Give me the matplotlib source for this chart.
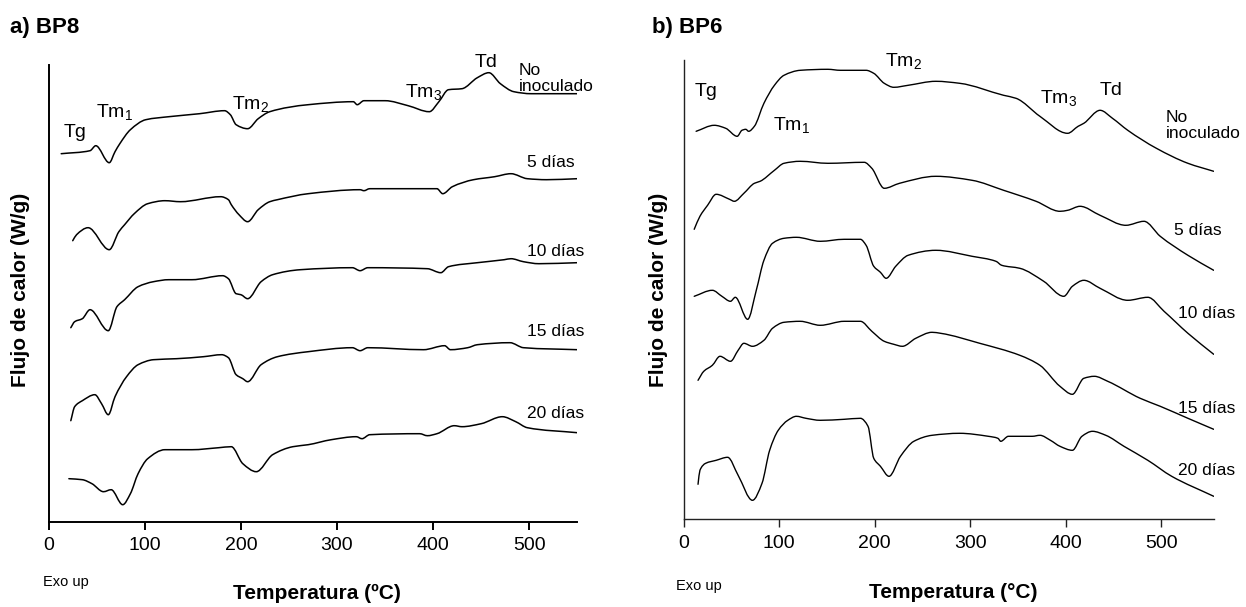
import numpy as np
import matplotlib.pyplot as plt
from matplotlib.path import Path
from matplotlib.patches import PathPatch

plt.rcParams['font.family'] = ['Liberation Sans', 'DejaVu Sans']
plt.rcParams['mathtext.default'] = 'regular'

# ---- a) BP8 : temperature (C) and heat flow (arbitrary, curves stacked) ----
bp8_labels = ['No\ninoculado', '5 días', '10 días', '15 días', '20 días']

bp8_t0 = [13, 43, 49, 63, 69, 74, 85, 101, 125, 157, 183, 189, 195, 207, 218, 230, 270, 317, 321, 328,
          350, 374, 396, 406, 416, 430, 446, 458, 470, 484, 502, 550]
bp8_q0 = [368, 371, 376, 359, 370, 378, 392, 402, 405, 408, 411, 407, 397, 393, 403, 410, 417, 420, 417, 421,
          421, 416, 410, 420, 432, 433, 444, 449, 438, 430, 428, 428]

bp8_t5 = [25, 29, 41, 63, 73, 79, 89, 103, 121, 137, 179, 187, 190, 198, 207, 218, 230, 238, 270, 324,
          328, 334, 390, 404, 410, 420, 442, 464, 481, 498, 518, 550]
bp8_q5 = [281, 287, 294, 272, 290, 297, 308, 318, 321, 320, 325, 322, 317, 307, 300, 312, 320, 322, 328, 332,
          331, 333, 333, 333, 328, 335, 342, 345, 348, 343, 342, 343]

bp8_t10 = [23, 27, 35, 43, 62, 71, 79, 93, 109, 125, 149, 181, 187, 195, 200, 207, 221, 233, 262, 316,
           324, 332, 394, 408, 416, 446, 474, 481, 494, 510, 550]
bp8_q10 = [194, 200, 203, 212, 191, 215, 222, 235, 240, 242, 242, 246, 243, 228, 227, 223, 240, 247, 252, 254,
           251, 254, 253, 249, 255, 259, 262, 263, 260, 258, 259]

bp8_t15 = [23, 27, 35, 48, 55, 62, 69, 81, 93, 109, 133, 161, 180, 187, 195, 202, 207, 221, 238, 270,
           316, 324, 332, 390, 412, 418, 436, 446, 480, 494, 550]
bp8_q15 = [101, 115, 121, 127, 118, 107, 125, 145, 157, 162, 163, 165, 167, 164, 147, 143, 140, 157, 165, 170,
           174, 171, 174, 172, 176, 172, 174, 177, 179, 174, 172]

bp8_t20 = [21, 35, 45, 57, 65, 77, 85, 93, 103, 121, 149, 177, 190, 202, 216, 233, 254, 270, 294, 320,
           326, 334, 386, 394, 404, 422, 430, 450, 472, 486, 498, 550]
bp8_q20 = [43, 42, 38, 30, 32, 17, 28, 48, 63, 72, 72, 74, 75, 58, 50, 67, 75, 77, 82, 85,
           83, 87, 88, 86, 88, 96, 95, 98, 105, 100, 94, 89]

# ---- b) BP6 ----
bp6_labels = ['No\ninoculado', '5 días', '10 días', '15 días', '20 días']

bp6_t0 = [13, 32, 44, 56, 61, 65, 68, 74, 84, 95, 105, 122, 151, 164, 191, 199, 210, 220, 235, 264,
          289, 335, 348, 373, 402, 413, 419, 436, 449, 465, 495, 528, 555]
bp6_q0 = [388, 394, 391, 383, 389, 390, 388, 393, 416, 434, 444, 449, 450, 449, 449, 446, 436, 432, 434, 438,
          436, 424, 421, 403, 386, 393, 396, 409, 401, 389, 371, 356, 348]

bp6_t5 = [11, 17, 25, 34, 48, 53, 63, 74, 80, 95, 105, 122, 151, 189, 197, 210, 226, 264, 302, 335,
          369, 394, 402, 415, 436, 463, 482, 499, 528, 555]
bp6_q5 = [290, 303, 314, 325, 320, 318, 326, 336, 338, 349, 356, 358, 356, 357, 351, 331, 336, 343, 339, 329,
          318, 308, 309, 313, 304, 294, 298, 283, 264, 249]

bp6_t10 = [11, 30, 40, 49, 54, 67, 76, 84, 93, 105, 118, 143, 168, 185, 191, 199, 206, 212, 222, 235,
           264, 302, 327, 333, 352, 377, 398, 407, 419, 436, 465, 486, 503, 528, 555]
bp6_q10 = [223, 229, 223, 218, 222, 200, 229, 259, 276, 281, 282, 278, 280, 280, 274, 253, 247, 241, 253, 264,
           269, 263, 258, 254, 251, 238, 223, 233, 239, 231, 219, 222, 208, 186, 165]

bp6_t15 = [15, 21, 30, 38, 49, 57, 63, 72, 84, 93, 105, 122, 143, 168, 185, 197, 210, 220, 229, 243,
           260, 269, 310, 352, 373, 394, 407, 419, 430, 444, 478, 499, 528, 555]
bp6_q15 = [139, 148, 154, 163, 158, 169, 176, 173, 179, 191, 197, 198, 194, 198, 198, 188, 178, 175, 173, 181,
           187, 186, 176, 164, 154, 133, 125, 141, 143, 138, 121, 113, 101, 90]

bp6_t20 = [15, 17, 23, 34, 46, 57, 72, 82, 90, 99, 109, 118, 128, 143, 168, 185, 193, 199, 206, 215,
           227, 241, 260, 289, 319, 329, 332, 340, 365, 373, 384, 394, 407, 417, 428, 442, 461, 486, 511, 555]
bp6_q20 = [35, 49, 56, 59, 62, 44, 19, 36, 69, 89, 99, 103, 101, 99, 100, 101, 93, 61, 53, 43,
           63, 78, 84, 86, 83, 81, 78, 83, 83, 84, 79, 73, 69, 83, 88, 84, 73, 59, 43, 23]

xticks = [0, 100, 200, 300, 400, 500]

W, H = 1246, 607
fig = plt.figure(figsize=(W / 100, H / 100), dpi=100)


def px_axes(x0, x1, ytop, ybot):
    return fig.add_axes([x0 / W, 1 - ybot / H, (x1 - x0) / W, (ybot - ytop) / H])


def style(ax, xmax, ymax, lw, col):
    ax.set_xlim(0, xmax)
    ax.set_ylim(0, ymax)
    ax.spines['top'].set_visible(False)
    ax.spines['right'].set_visible(False)
    for s in ('left', 'bottom'):
        ax.spines[s].set_linewidth(lw)
        ax.spines[s].set_color(col)
    ax.set_yticks([])
    ax.set_xticks(xticks)
    ax.tick_params(axis='x', direction='out', length=6, width=lw, color=col,
                   labelsize=14, pad=5)


def smooth_line(ax, t, q, lw):
    # hand traced curve: draw a smooth (monotone cubic) bezier through the read points
    x = np.asarray(t, float)
    y = np.asarray(q, float)
    h = np.diff(x)
    d = np.diff(y) / h
    m = np.zeros_like(y)
    m[0], m[-1] = d[0], d[-1]
    for i in range(1, len(x) - 1):
        if d[i - 1] * d[i] > 0:
            w1 = 2 * h[i] + h[i - 1]
            w2 = h[i] + 2 * h[i - 1]
            m[i] = (w1 + w2) / (w1 / d[i - 1] + w2 / d[i])
    verts = [(x[0], y[0])]
    codes = [Path.MOVETO]
    for i in range(len(x) - 1):
        verts += [(x[i] + h[i] / 3, y[i] + m[i] * h[i] / 3),
                  (x[i + 1] - h[i] / 3, y[i + 1] - m[i + 1] * h[i] / 3),
                  (x[i + 1], y[i + 1])]
        codes += [Path.CURVE4] * 3
    ax.add_patch(PathPatch(Path(verts, codes), fill=False, edgecolor='black', lw=lw,
                           joinstyle='round', capstyle='round'))


axL = px_axes(48.7, 576.7, 65, 521.7)
style(axL, 549.4, 456.7, 1.4, 'black')
for t, q in [(bp8_t0, bp8_q0), (bp8_t5, bp8_q5), (bp8_t10, bp8_q10),
             (bp8_t15, bp8_q15), (bp8_t20, bp8_q20)]:
    smooth_line(axL, t, q, 1.1)

axR = px_axes(683.7, 1214, 60, 519.3)
style(axR, 555.3, 459.3, 1.0, '#222222')
for t, q in [(bp6_t0, bp6_q0), (bp6_t5, bp6_q5), (bp6_t10, bp6_q10),
             (bp6_t15, bp6_q15), (bp6_t20, bp6_q20)]:
    smooth_line(axR, t, q, 1.0)

# peak labels
pk = dict(fontsize=14, ha='center', va='center')
axL.text(27, 389, 'Tg', **pk)
axL.text(69, 410, 'Tm$_1$', **pk)
axL.text(210, 418, 'Tm$_2$', **pk)
axL.text(390, 430, 'Tm$_3$', **pk)
axL.text(455, 459, 'Td', **pk)

axR.text(23, 428, 'Tg', **pk)
axR.text(113, 394, 'Tm$_1$', **pk)
axR.text(230, 458, 'Tm$_2$', **pk)
axR.text(393, 421, 'Tm$_3$', **pk)
axR.text(447, 429, 'Td', **pk)

# curve labels
cl = dict(fontsize=12.5, ha='left', va='center', linespacing=1.1)
for lab, x, y in zip(bp8_labels, [489, 498, 498, 498, 498], [443, 359, 270, 190, 108]):
    axL.text(x, y, lab, **cl)
for lab, x, y in zip(bp6_labels, [505, 513, 518, 518, 518], [394, 289, 206, 111, 49]):
    axR.text(x, y, lab, **cl)

# panel titles and axis titles
fig.text(10 / W, 1 - 28 / H, 'a) BP8', fontsize=16, fontweight='bold', va='center', ha='left')
fig.text(652 / W, 1 - 28 / H, 'b) BP6', fontsize=16, fontweight='bold', va='center', ha='left')
fig.text(43 / W, 1 - 582 / H, 'Exo up', fontsize=10.5, va='center', ha='left')
fig.text(676 / W, 1 - 586 / H, 'Exo up', fontsize=10.5, va='center', ha='left')
fig.text(317 / W, 1 - 593 / H, 'Temperatura (ºC)', fontsize=15, fontweight='bold', ha='center', va='center')
fig.text(953 / W, 1 - 592 / H, 'Temperatura (°C)', fontsize=15, fontweight='bold', ha='center', va='center')
fig.text(21 / W, 1 - 290 / H, 'Flujo de calor (W/g)', fontsize=15, fontweight='bold',
         rotation=90, ha='center', va='center')
fig.text(659 / W, 1 - 290 / H, 'Flujo de calor (W/g)', fontsize=15, fontweight='bold',
         rotation=90, ha='center', va='center')

fig.savefig('out.png', dpi=100)
